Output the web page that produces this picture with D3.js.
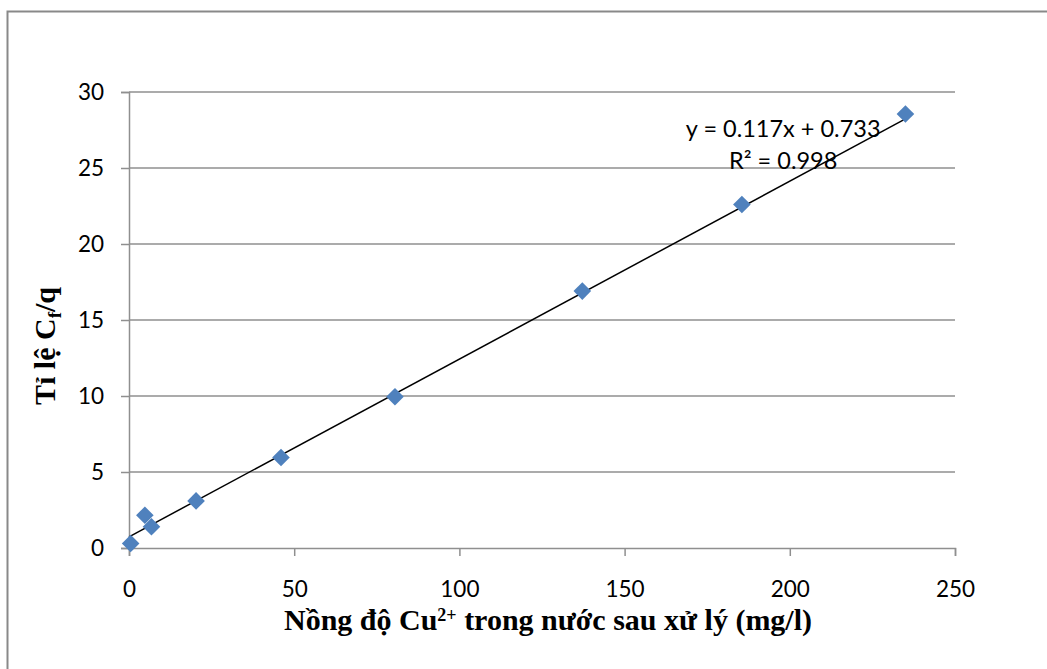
<!DOCTYPE html>
<html>
<head>
<meta charset="utf-8">
<script src="https://cdn.jsdelivr.net/npm/d3@7"></script>
<style>
  body { margin: 0; background: #fff; }
  svg { display: block; }
</style>
</head>
<body>
<div id="chart"></div>
<script>
// measured points (Cf in mg/l, Cf/q)
const cfValues = [0.5, 4.8, 6.8, 20.3, 46, 80.5, 137.2, 185.5, 235];
const ratioValues = [0.3, 2.15, 1.4, 3.1, 5.95, 9.95, 16.9, 22.6, 28.55];
const xTicks = [0, 50, 100, 150, 200, 250];
const yTicks = [0, 5, 10, 15, 20, 25, 30];
const trendSlope = 0.117;
const trendIntercept = 0.733;
const eqLabel = "y = 0.117x + 0.733";
const r2Label = "R² = 0.998";

const W = 1047, H = 669;
const margin = {top: 92, right: 92, bottom: 121, left: 129};
const width = W - margin.left - margin.right;
const height = H - margin.top - margin.bottom;

const svg = d3.select("#chart").append("svg")
    .attr("width", W)
    .attr("height", H);

// outer chart frame (only left and top are visible in the crop)
svg.append("rect")
    .attr("x", 7.5).attr("y", 11.5)
    .attr("width", W + 20).attr("height", H + 20)
    .attr("fill", "none")
    .attr("stroke", "#898989")
    .attr("stroke-width", 2);

const g = svg.append("g")
    .attr("transform", `translate(${margin.left},${margin.top})`);

const x = d3.scaleLinear().domain([0, 250]).range([0, width]);
const y = d3.scaleLinear().domain([0, 30]).range([height, 0]);

// horizontal gridlines
g.selectAll(".grid")
    .data(yTicks.slice(1))
    .join("line")
    .attr("class", "grid")
    .attr("x1", 0).attr("x2", width)
    .attr("y1", d => y(d)).attr("y2", d => y(d))
    .attr("stroke", "#8f8f8f")
    .attr("stroke-width", 1.5);

const tickFont = "Lato, 'Open Sans', sans-serif";

// y axis
const yAxis = g.append("g")
    .call(d3.axisLeft(y).tickValues(yTicks).tickSize(8).tickPadding(17));
// x axis
const xAxis = g.append("g")
    .attr("transform", `translate(0,${height})`)
    .call(d3.axisBottom(x).tickValues(xTicks).tickSize(8).tickPadding(25));

[xAxis, yAxis].forEach(ax => {
    ax.select(".domain").attr("stroke", "#8f8f8f").attr("stroke-width", 1.5);
    ax.selectAll(".tick line").attr("stroke", "#8f8f8f").attr("stroke-width", 1.5);
    ax.selectAll(".tick text")
        .attr("fill", "#000")
        .style("font-family", tickFont)
        .style("font-size", "22.5px");
});

// trendline over the data range
const xMax = d3.max(cfValues);
g.append("line")
    .attr("x1", x(0)).attr("y1", y(trendIntercept))
    .attr("x2", x(xMax)).attr("y2", y(trendSlope * xMax + trendIntercept))
    .attr("stroke", "#000")
    .attr("stroke-width", 1.5);

// diamond markers
const pts = cfValues.map((v, i) => ({cf: v, r: ratioValues[i]}));
g.selectAll(".pt")
    .data(pts)
    .join("path")
    .attr("class", "pt")
    .attr("d", d3.symbol(d3.symbolSquare, 155))
    .attr("transform", d => `translate(${x(d.cf)},${y(d.r)}) rotate(45)`)
    .attr("fill", "#4f81bd");

// trendline equation
const eq = g.append("text")
    .attr("x", x(198)).attr("y", y(27.05))
    .attr("text-anchor", "middle")
    .style("font-family", tickFont)
    .style("font-size", "23.5px");
eq.append("tspan").text(eqLabel);
eq.append("tspan").attr("x", x(198)).attr("dy", 32).text(r2Label);

// axis titles
const titleFont = "'Liberation Serif', 'Times New Roman', serif";
const xt = svg.append("text")
    .attr("x", 548).attr("y", 630)
    .attr("text-anchor", "middle")
    .style("font-family", titleFont)
    .style("font-weight", "bold")
    .style("font-size", "30px");
xt.append("tspan").text("Nồng độ Cu");
xt.append("tspan").attr("dy", -9).style("font-size", "18px").text("2+");
xt.append("tspan").attr("dy", 9).text(" trong nước sau xử lý (mg/l)");

const yt = svg.append("text")
    .attr("transform", "translate(55,346) rotate(-90)")
    .attr("text-anchor", "middle")
    .style("font-family", titleFont)
    .style("font-weight", "bold")
    .style("font-size", "30px");
yt.append("tspan").text("Tỉ lệ C");
yt.append("tspan").attr("dy", 6).style("font-size", "19px").text("f");
yt.append("tspan").attr("dy", -6).text("/q");
</script>
</body>
</html>
